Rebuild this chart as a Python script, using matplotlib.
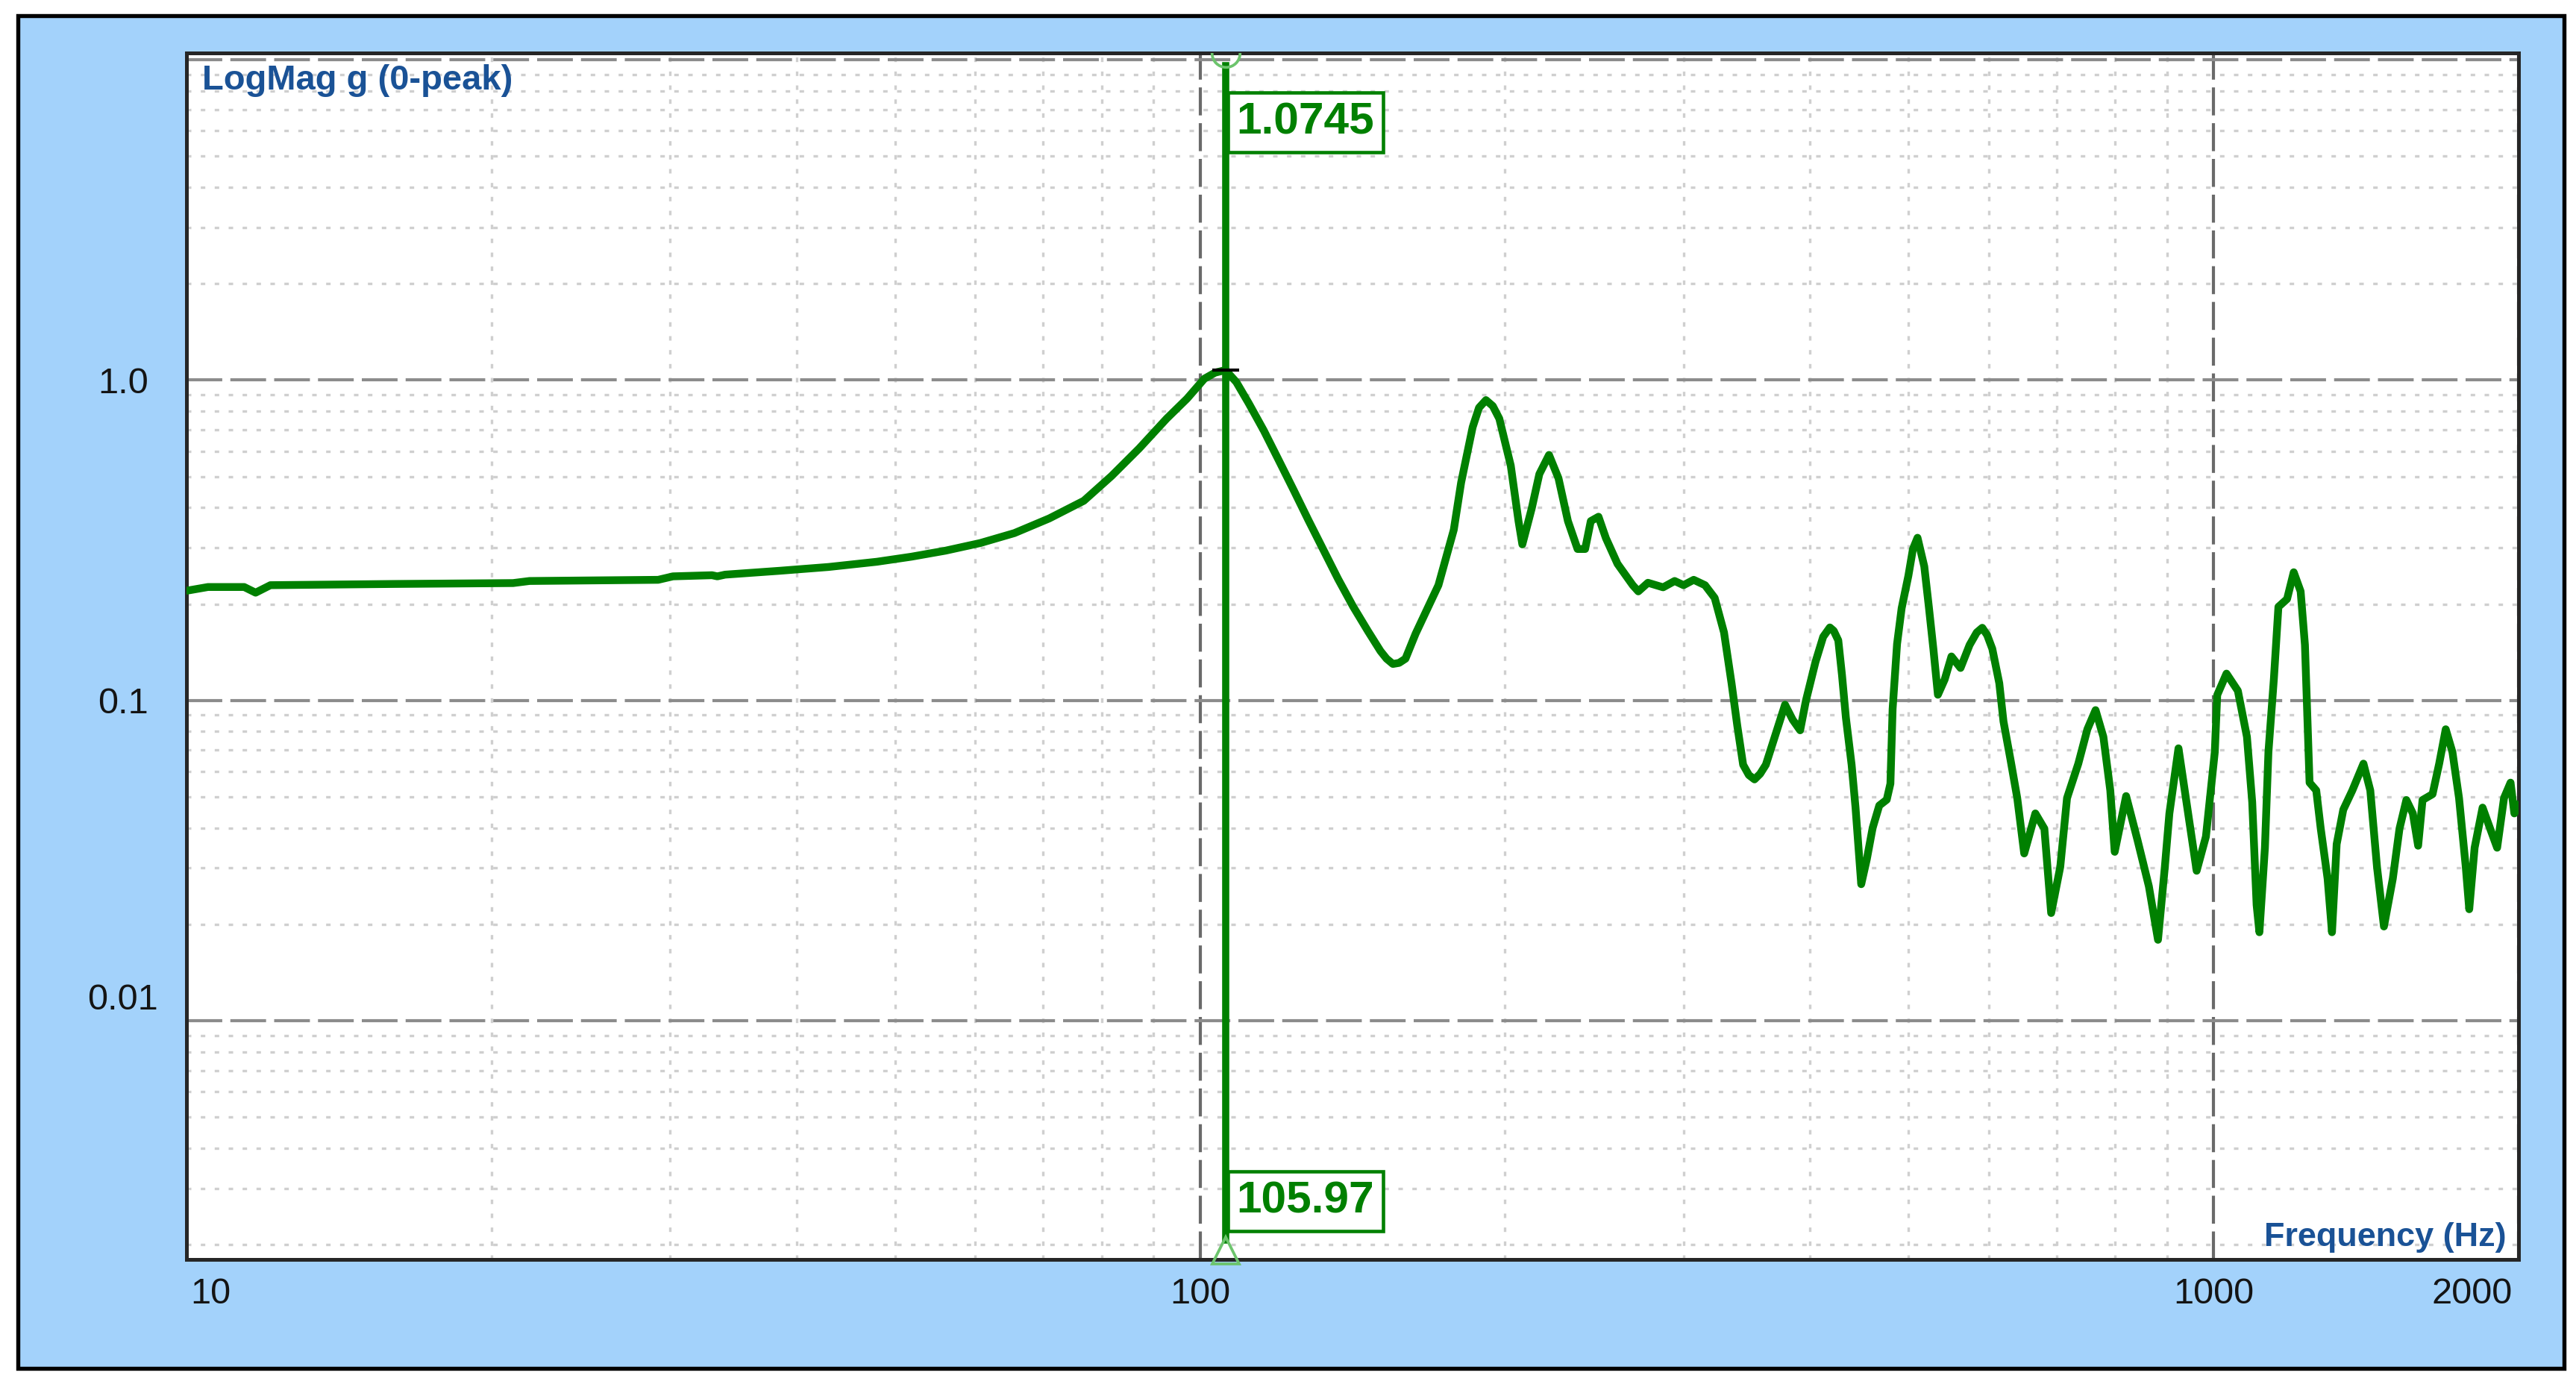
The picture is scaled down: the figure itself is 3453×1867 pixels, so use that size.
import matplotlib.pyplot as plt
import numpy as np
from matplotlib.patches import Rectangle
from matplotlib.ticker import FixedLocator, LogLocator, NullFormatter
from matplotlib.transforms import ScaledTranslation, blended_transform_factory

# Frequency response (Hz, g 0-peak)
freq_hz = [10, 10.5, 11.4, 11.7, 12.1, 16, 21.0, 21.8, 29.2, 30.2, 33, 33.4, 34,
           38.5, 43, 48, 51.9, 56.1, 60.7, 65.6, 71, 76.8, 81.8, 87.1, 92.7,
           97.1, 101, 103.5, 105.97, 108.6, 111.7, 115.6, 119.6, 123.7, 127.9,
           132.3, 136.9, 141.6, 146.5, 150.7, 152.8, 155, 157.2, 159.5, 163.2,
           171.9, 178, 181, 185.8, 188.5, 191.5, 194.5, 197.4, 202.6, 206.2, 208,
           212.5, 216.2, 221, 225.8, 230.7, 235.8, 239.9, 243, 247.3, 251.5,
           258.2, 267.3, 270.7, 276.7, 286.4, 294, 300, 307, 315, 322, 328.9,
           334.6, 339, 343.5, 348, 352.5, 357, 361.7, 369.7, 377.8, 384.4, 391,
           396.2, 404.9, 412, 418.3, 422, 426.4, 430, 433.8, 439.5, 443.4, 449.2,
           455, 461, 468, 476, 480, 482.4, 487.3, 492.4, 500, 505.2, 510.5,
           518.4, 523.8, 529.2, 534.7, 543, 551.4, 562.9, 574.6, 584, 591.4,
           598, 605, 614.7, 620.6, 630.6, 640.3, 650.5, 667.2, 681, 691.6, 706,
           717, 735.6, 750.9, 765, 778.7, 791, 799, 820, 841.6, 863.5, 881.6,
           895.4, 904.7, 923.6, 942.9, 962.5, 983, 1003, 1008.6, 1030, 1057,
           1079, 1092, 1103, 1110, 1124, 1133, 1147, 1159, 1182, 1200, 1219,
           1231, 1244, 1263, 1276, 1296, 1309, 1323, 1343, 1371, 1406, 1428,
           1450, 1473, 1503, 1526, 1550, 1573, 1592, 1608, 1645, 1670, 1695,
           1721, 1747, 1774, 1788, 1810, 1843, 1875, 1905, 1935, 1964, 1981,
           2000]
mag_g = [0.220, 0.226, 0.226, 0.217, 0.229, 0.231, 0.2325, 0.236, 0.238, 0.244,
         0.246, 0.244, 0.247, 0.254, 0.261, 0.271, 0.281, 0.2935, 0.310, 0.333,
         0.370, 0.420, 0.502, 0.612, 0.758, 0.875, 1.01, 1.055, 1.0745, 0.986,
         0.847, 0.696, 0.562, 0.454, 0.366, 0.296, 0.239, 0.1965, 0.1644,
         0.1426, 0.135, 0.130, 0.131, 0.135, 0.1615, 0.229, 0.341, 0.479, 0.713,
         0.82, 0.866, 0.83, 0.758, 0.541, 0.363, 0.307, 0.398, 0.509, 0.584,
         0.494, 0.363, 0.297, 0.297, 0.363, 0.3745, 0.321, 0.267, 0.229, 0.219,
         0.233, 0.2255, 0.236, 0.229, 0.238, 0.229, 0.209, 0.163, 0.113, 0.0832,
         0.063, 0.0585, 0.0567, 0.059, 0.063, 0.0782, 0.097, 0.0871, 0.0807,
         0.100, 0.132, 0.158, 0.169, 0.165, 0.154, 0.120, 0.0885, 0.063,
         0.0464, 0.0267, 0.032, 0.040, 0.047, 0.049, 0.055, 0.094, 0.150, 0.194,
         0.245, 0.297, 0.322, 0.262, 0.196, 0.145, 0.1042, 0.1163, 0.1372,
         0.1263, 0.149, 0.163, 0.1686, 0.16, 0.145, 0.1132, 0.086, 0.0653,
         0.0496, 0.0333, 0.0444, 0.0398, 0.0217, 0.0302, 0.0496, 0.0635, 0.0813,
         0.0933, 0.077, 0.0524, 0.0337, 0.0503, 0.0366, 0.0263, 0.0179, 0.0302,
         0.0444, 0.0709, 0.0456, 0.0294, 0.0376, 0.069, 0.104, 0.1213, 0.1072,
         0.077, 0.0482, 0.023, 0.0189, 0.0347, 0.069, 0.1163, 0.196, 0.2073,
         0.2513, 0.219, 0.149, 0.0554, 0.0524, 0.0398, 0.0278, 0.0189, 0.0356,
         0.0456, 0.0524, 0.0635, 0.0524, 0.0302, 0.0197, 0.0278, 0.0398, 0.0489,
         0.0444, 0.0352, 0.0489, 0.051, 0.0635, 0.0813, 0.069, 0.0496, 0.0302,
         0.0223, 0.0347, 0.0463, 0.0398, 0.0347, 0.0496, 0.0554, 0.0444, 0.047]

# cursor readout
marker_freq = 105.97
marker_mag = 1.0745

x_ticks = [10, 100, 1000, 2000]
x_tick_labels = ['10', '100', '1000', '2000']
y_ticks = [0.01, 0.1, 1.0, 10.0]
y_tick_labels = ['0.01', '0.1', '1.0', '']

green = '#008000'
light_green = '#6cc46c'
panel_blue = '#a3d2fb'
label_blue = '#1a5296'

plt.rcParams['font.family'] = ['Liberation Sans', 'DejaVu Sans']

fig = plt.figure(figsize=(3453 / 300, 1867 / 300), dpi=300)
fig.patches.append(Rectangle((0.00695, 0.01768), 0.98842, 0.97108,
                             transform=fig.transFigure, facecolor=panel_blue,
                             edgecolor='black', linewidth=1.3, zorder=-5))

ax = fig.add_axes([0.0724, 0.0959, 0.9053, 0.8661])
ax.set_zorder(1)
ax.set_facecolor('white')
ax.set_xscale('log')
ax.set_yscale('log')
ax.set_xlim(10, 2000)
ax.set_ylim(0.0018, 10.5)

# ticks and labels
ax.xaxis.set_major_locator(FixedLocator(x_ticks))
ax.xaxis.set_minor_locator(LogLocator(base=10, subs=np.arange(2, 10)))
ax.xaxis.set_minor_formatter(NullFormatter())
ax.set_xticklabels(x_tick_labels)
ax.yaxis.set_major_locator(FixedLocator(y_ticks))
ax.yaxis.set_minor_locator(LogLocator(base=10, subs=np.arange(2, 10)))
ax.yaxis.set_minor_formatter(NullFormatter())
ax.set_yticklabels(y_tick_labels)

ax.tick_params(which='both', length=0, labelsize=11.7, labelcolor='#141414')
ax.tick_params(axis='x', pad=5.8)
ax.tick_params(axis='y', pad=20.4)
for lbl in ax.get_yticklabels():
    lbl.set_ha('center')
ax.get_yticklabels()[0].set_transform(
    ax.get_yticklabels()[0].get_transform()
    + ScaledTranslation(0, 33 / 300, fig.dpi_scale_trans))
xlbls = ax.get_xticklabels()
xlbls[0].set_ha('left')
xlbls[0].set_transform(xlbls[0].get_transform()
                       + ScaledTranslation(5 / 300, 0, fig.dpi_scale_trans))
xlbls[-1].set_ha('right')
xlbls[-1].set_transform(xlbls[-1].get_transform()
                        + ScaledTranslation(-8 / 300, 0, fig.dpi_scale_trans))

# grid
ax.set_axisbelow(True)
ax.yaxis.grid(True, which='major', color='#8c8c8c', linestyle=(0, (11.5, 2.6)), linewidth=1.0)
ax.xaxis.grid(True, which='major', color='#6a6a6a', linestyle=(0, (9, 2.5)), linewidth=1.0)
ax.grid(True, which='minor', color='#cfcfcf', linestyle=(0, (1.8, 3.8)), linewidth=0.8)

for sp in ax.spines.values():
    sp.set_color('#262626')
    sp.set_linewidth(1.2)

# response curve
ax.plot(freq_hz, mag_g, color=green, linewidth=2.5, solid_joinstyle='round', zorder=3)

# cursor
ax.axvline(marker_freq, ymin=0.016, ymax=0.9895, color=green, linewidth=2.3, zorder=4)
bt = blended_transform_factory(ax.transData, ax.transAxes)
ax.plot([marker_freq], [1.0], transform=bt, marker='o', markersize=9,
        markerfacecolor='none', markeredgecolor=light_green, markeredgewidth=0.9,
        clip_on=True, zorder=4)
ax.plot([marker_freq], [0.0074], transform=bt, marker='^', markersize=8.5,
        markerfacecolor='none', markeredgecolor=light_green, markeredgewidth=0.9,
        clip_on=False, zorder=4)
ax.plot([marker_freq], [marker_mag], marker='_', markersize=8.5,
        markeredgewidth=1.0, color='black', zorder=5)

box = dict(boxstyle='square,pad=0.2', facecolor='white', edgecolor=green, linewidth=1.1)
ax.annotate(f'{marker_mag:.4f}', xy=(marker_freq, 0.9425), xycoords=bt,
            xytext=(3.6, 0), textcoords='offset points', ha='left', va='center',
            fontsize=14.5, fontweight='bold', color=green, bbox=box, zorder=6)
ax.annotate(f'{marker_freq:.2f}', xy=(marker_freq, 0.0482), xycoords=bt,
            xytext=(3.6, 0), textcoords='offset points', ha='left', va='center',
            fontsize=14.5, fontweight='bold', color=green, bbox=box, zorder=6)

# axis captions inside the plot
ax.text(0.0067, 0.9697, 'LogMag g (0-peak)', transform=ax.transAxes, ha='left',
        va='baseline', fontsize=11.3, fontweight='bold', color=label_blue, zorder=6)
ax.text(0.9949, 0.0111, 'Frequency (Hz)', transform=ax.transAxes, ha='right',
        va='baseline', fontsize=10.8, fontweight='bold', color=label_blue, zorder=6)

fig.savefig('out.png', dpi=300, facecolor='white')
